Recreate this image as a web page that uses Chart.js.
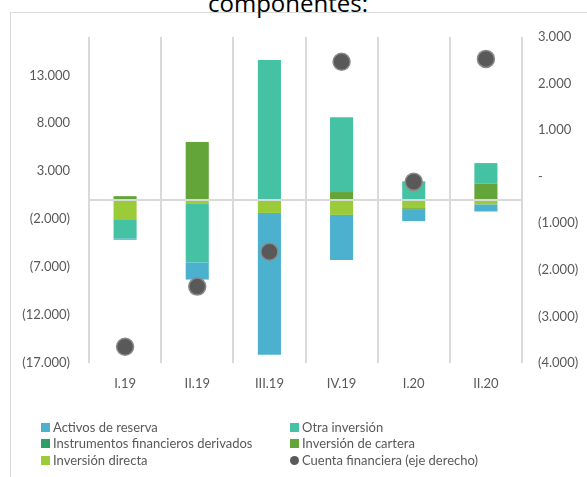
<!DOCTYPE html>
<html>
<head>
<meta charset="utf-8">
<script src="https://cdn.jsdelivr.net/npm/chart.js@4"></script>
<style>
  html, body { margin: 0; padding: 0; background: #fff; width: 587px; height: 477px; overflow: hidden; }
  #frame { position: absolute; left: 10px; top: 12px; width: 620px; height: 520px; border: 1px solid #d9d9d9; box-sizing: border-box; }
  #title { position: absolute; left: 0; top: -14px; width: 576px; text-align: center; font: 24px "Open Sans", sans-serif; color: #000; white-space: nowrap; }
  #wrap { position: absolute; left: 0; top: 0; width: 587px; height: 400px; }
  #legend { position: absolute; left: 0; top: 0; width: 587px; height: 477px; pointer-events: none; }
  .item { position: absolute; font: 13px Lato, sans-serif; color: #595959; white-space: nowrap; line-height: 16px; }
  .box { display: inline-block; width: 9px; height: 9px; margin-right: 3px; vertical-align: -0px; }
  .dot { border-radius: 50%; }
</style>
</head>
<body>
<div id="frame"></div>
<div id="title">componentes:</div>
<div id="wrap"><canvas id="c" width="587" height="400"></canvas></div>
<div id="legend"></div>
<script>
// Quarters on the category axis
const categories = ['I.19', 'II.19', 'III.19', 'IV.19', 'I.20', 'II.20'];

// Components of the financial account (left axis)
const inversionDirecta   = [-2000,  -350,  -1350, -1550,  -850,  -450];
const inversionCartera   = [  400,  6050,      0,   830,  -100,  1700];
const derivados          = [    0,     0,      0,     0,     0,     0];
const otraInversion      = [-2000, -6150,  14600,  7800,  1950,  2150];
const activosReserva     = [ -150, -1800, -14800, -4700, -1250,  -750];

// Financial account total (right axis)
const cuentaFinanciera   = [-3650, -2360,  -1610,  2470,  -110,  2530];

// Axis ticks
const leftTicks  = [-17000, -12000, -7000, -2000, 3000, 8000, 13000];
const rightTicks = [-4000, -3000, -2000, -1000, 0, 1000, 2000, 3000];

const grid = '#d9d9d9';
const txt = '#595959';

function fmt(v) {
  const s = Math.abs(v).toString().replace(/\B(?=(\d{3})+(?!\d))/g, '.');
  if (v === 0) return '-';
  return v < 0 ? '(' + s + ')' : s;
}

const barCommon = { type: 'bar', yAxisID: 'y', order: 1, borderWidth: 0,
                    categoryPercentage: 1, barPercentage: 0.32 };

const chart = new Chart(document.getElementById('c'), {
  data: {
    labels: categories,
    datasets: [
      { label: 'Cuenta financiera (eje derecho)', type: 'line', yAxisID: 'y1', order: 0,
        data: cuentaFinanciera, showLine: false, pointStyle: 'circle', pointRadius: 8.5,
        pointBackgroundColor: '#595959', pointBorderColor: '#8a8a8a', pointBorderWidth: 1.5,
        backgroundColor: '#595959', borderColor: '#595959' },
      { ...barCommon, label: 'Inversión directa', data: inversionDirecta, backgroundColor: '#9CCB3A' },
      { ...barCommon, label: 'Inversión de cartera', data: inversionCartera, backgroundColor: '#63A539' },
      { ...barCommon, label: 'Instrumentos financieros derivados', data: derivados, backgroundColor: '#2E9E68' },
      { ...barCommon, label: 'Otra inversión', data: otraInversion, backgroundColor: '#45C2A3' },
      { ...barCommon, label: 'Activos de reserva', data: activosReserva, backgroundColor: '#4BB1CF' }
    ]
  },
  options: {
    responsive: false,
    devicePixelRatio: 1,
    animation: false,
    layout: { padding: { top: 37, left: 0, right: 0, bottom: 0 } },
    plugins: { legend: { display: false }, tooltip: { enabled: false } },
    scales: {
      x: {
        stacked: true,
        grid: { offset: true, color: grid, lineWidth: 2, drawTicks: false },
        border: { display: false },
        ticks: { color: txt, font: { family: 'Lato', size: 13 }, padding: 13 },
        afterFit: s => { s.height = 37; }
      },
      y: {
        position: 'left',
        stacked: true,
        min: -17000, max: 17000,
        afterBuildTicks: s => { s.ticks = leftTicks.concat([0]).sort((a, b) => a - b).map(v => ({ value: v })); },
        grid: { drawTicks: false, lineWidth: 2,
                color: c => (c.tick && c.tick.value === 0) ? grid : 'rgba(0,0,0,0)' },
        border: { display: false },
        ticks: { color: txt, font: { family: 'Lato', size: 13 }, padding: 19,
                 callback: v => v === 0 ? '' : fmt(v) },
        afterFit: s => { s.width = 89; }
      },
      y1: {
        position: 'right',
        min: -4000, max: 3000,
        afterBuildTicks: s => { s.ticks = rightTicks.map(v => ({ value: v })); },
        grid: { display: false, drawTicks: false },
        border: { display: false },
        ticks: { color: txt, font: { family: 'Lato', size: 13 }, padding: 16, callback: v => fmt(v) },
        afterFit: s => { s.width = 65; }
      }
    }
  }
});

// Two-column legend built from the chart's own legend items
const items = Chart.defaults.plugins.legend.labels.generateLabels(chart);
const byLabel = {};
items.forEach(it => { byLabel[it.text] = it; });
const legendOrder = [
  ['Activos de reserva', 41, 419], ['Otra inversión', 290, 419],
  ['Instrumentos financieros derivados', 41, 435], ['Inversión de cartera', 290, 435],
  ['Inversión directa', 41, 452], ['Cuenta financiera (eje derecho)', 290, 452]
];
const lg = document.getElementById('legend');
legendOrder.forEach(([name, x, y]) => {
  const it = byLabel[name];
  const d = document.createElement('div');
  d.className = 'item';
  d.style.left = x + 'px';
  d.style.top = y + 'px';
  const b = document.createElement('span');
  b.className = 'box' + (name.startsWith('Cuenta') ? ' dot' : '');
  b.style.background = it.fillStyle;
  d.appendChild(b);
  d.appendChild(document.createTextNode(it.text));
  lg.appendChild(d);
});
</script>
</body>
</html>
